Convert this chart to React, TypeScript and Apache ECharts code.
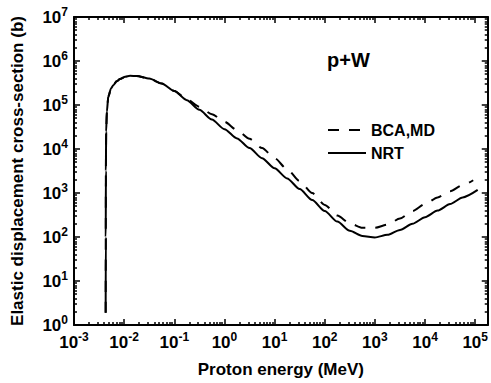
import React, { useEffect, useRef } from 'react';
import * as echarts from 'echarts';

// Proton energy (MeV) and elastic displacement cross-section (barn)
const nrtEnergy = [0.00428, 0.0043, 0.00432, 0.00438, 0.00452, 0.00483, 0.0055, 0.00608, 0.00708, 0.00826, 0.0105, 0.0131, 0.0178, 0.0316, 0.0562, 0.1, 0.178, 0.316, 0.562, 1, 1.78, 3.16, 5.62, 10, 17.8, 31.6, 56.2, 100, 178, 316, 562, 1000, 1780, 3160, 5620, 10000, 17800, 31600, 56200, 112000];
const nrtSigma = [1.9, 100, 3200, 25000, 71000, 155000, 240000, 282000, 347000, 389000, 437000, 460000, 457000, 398000, 309000, 209000, 129000, 77600, 46800, 28200, 17400, 10500, 6170, 3630, 2140, 1230, 692, 389, 224, 138, 105, 97.7, 112, 145, 200, 282, 398, 562, 794, 1175];

const bcaEnergy = [0.00428, 0.0043, 0.00432, 0.00438, 0.00452, 0.00483, 0.0055, 0.00608, 0.00708, 0.00826, 0.0105, 0.0131, 0.0178, 0.0316, 0.0562, 0.1, 0.178, 0.316, 0.562, 1, 1.78, 3.16, 5.62, 10, 17.8, 31.6, 56.2, 100, 178, 316, 562, 1000, 1780, 3160, 5620, 10000, 17800, 31600, 56200, 91200];
const bcaSigma = [1.9, 100, 3200, 25000, 71000, 155000, 240000, 282000, 347000, 389000, 437000, 460000, 457000, 398000, 309000, 209000, 135000, 91200, 61700, 41700, 26900, 17000, 10500, 6170, 3470, 1860, 1000, 537, 309, 204, 162, 162, 191, 263, 389, 562, 794, 1100, 1510, 1950];

const xExponents = [-3, -2, -1, 0, 1, 2, 3, 4, 5];
const yExponents = [0, 1, 2, 3, 4, 5, 6, 7];

const X_MIN = -3;
const X_MAX = 5.25;
const Y_MIN = 0;
const Y_MAX = 7;

const FONT = 'Arial, "Liberation Sans", Helvetica, sans-serif';

function minorTicks(lo: number, hi: number): number[] {
  const out: number[] = [];
  for (let n = Math.floor(lo); n < Math.ceil(hi); n++) {
    for (let k = 2; k <= 9; k++) {
      const v = n + Math.log10(k);
      if (v > lo && v < hi) out.push(v);
    }
  }
  return out;
}

const toLog = (xs: number[], ys: number[]) => xs.map((x, i) => [Math.log10(x), Math.log10(ys[i])]);

const rich = {
  s: { fontSize: 12, fontWeight: 'bold', fontFamily: FONT, color: '#000', verticalAlign: 'top', lineHeight: 12 },
};
const fmt = (v: number) => `10{s|${Math.round(v)}}`;

export default function App() {
  const ref = useRef<HTMLDivElement>(null);
  useEffect(() => {
    if (!ref.current) return;
    const chart = echarts.init(ref.current, undefined, { renderer: 'svg' });
    const xMinor = minorTicks(X_MIN, X_MAX);
    const yMinor = minorTicks(Y_MIN, Y_MAX);
    const lineCol = '#000';
    const commonX = {
      type: 'value', min: X_MIN, max: X_MAX, interval: 1,
      splitLine: { show: false },
      axisLine: { onZero: false, lineStyle: { color: lineCol, width: 2 } },
    };
    const commonY = {
      type: 'value', min: Y_MIN, max: Y_MAX, interval: 1,
      splitLine: { show: false },
      axisLine: { onZero: false, lineStyle: { color: lineCol, width: 2 } },
    };
    const tick = (vals: number[], len: number) => ({
      inside: true, length: len, customValues: vals, lineStyle: { color: lineCol, width: 1.5 },
    });
    const labelBase = { fontSize: 17, fontWeight: 'bold', fontFamily: FONT, color: '#000', lineHeight: 22, rich };
    const nameStyle = { fontSize: 17, fontWeight: 'bold', fontFamily: FONT, color: '#000' };
    chart.setOption({
      animation: false,
      backgroundColor: '#fff',
      grid: { left: 74, right: 3, top: 17, bottom: 58, containLabel: false },
      xAxis: [
        {
          ...commonX, position: 'bottom',
          axisTick: tick(xExponents, 6),
          axisLabel: { ...labelBase, customValues: xExponents, formatter: fmt, margin: 6 },
          name: 'Proton energy (MeV)', nameLocation: 'middle', nameGap: 36, nameTextStyle: nameStyle,
        },
        { ...commonX, position: 'bottom', axisLine: { show: false, onZero: false }, axisTick: tick(xMinor, 3), axisLabel: { show: false } },
        { ...commonX, position: 'top', axisTick: tick(xExponents, 6), axisLabel: { show: false } },
        { ...commonX, position: 'top', axisLine: { show: false, onZero: false }, axisTick: tick(xMinor, 3), axisLabel: { show: false } },
      ],
      yAxis: [
        {
          ...commonY, position: 'left',
          axisTick: tick(yExponents, 6),
          axisLabel: { ...labelBase, customValues: yExponents, formatter: fmt, margin: 6 },
          name: 'Elastic displacement cross-section (b)', nameLocation: 'middle', nameGap: 48, nameTextStyle: nameStyle,
        },
        { ...commonY, position: 'left', axisLine: { show: false, onZero: false }, axisTick: tick(yMinor, 3), axisLabel: { show: false } },
        { ...commonY, position: 'right', axisTick: tick(yExponents, 6), axisLabel: { show: false } },
        { ...commonY, position: 'right', axisLine: { show: false, onZero: false }, axisTick: tick(yMinor, 3), axisLabel: { show: false } },
      ],
      legend: {
        data: ['BCA,MD', 'NRT'],
        orient: 'vertical', left: 327, top: 122, padding: 0,
        itemWidth: 38, itemHeight: 14, itemGap: 7,
        itemStyle: { opacity: 0 },
        textStyle: { fontSize: 16, fontWeight: 'bold', fontFamily: FONT, color: '#000' },
      },
      graphic: [
        { type: 'text', left: 327, top: 50, style: { text: 'p+W', font: `bold 20px ${FONT}`, fill: '#000' } },
      ],
      series: [
        {
          name: 'BCA,MD', type: 'line', xAxisIndex: 0, yAxisIndex: 0,
          data: toLog(bcaEnergy, bcaSigma), symbol: 'none', smooth: 0.25, smoothMonotone: 'x',
          lineStyle: { color: '#000', width: 2, type: [11, 10] }, itemStyle: { color: '#000' },
        },
        {
          name: 'NRT', type: 'line', xAxisIndex: 0, yAxisIndex: 0,
          data: toLog(nrtEnergy, nrtSigma), symbol: 'none', smooth: 0.25, smoothMonotone: 'x',
          lineStyle: { color: '#000', width: 2 }, itemStyle: { color: '#000' },
        },
      ],
    });
    return () => chart.dispose();
  }, []);
  return <div ref={ref} style={{ position: 'fixed', left: 0, top: 0, width: 491, height: 383, background: '#fff' }} />;
}
